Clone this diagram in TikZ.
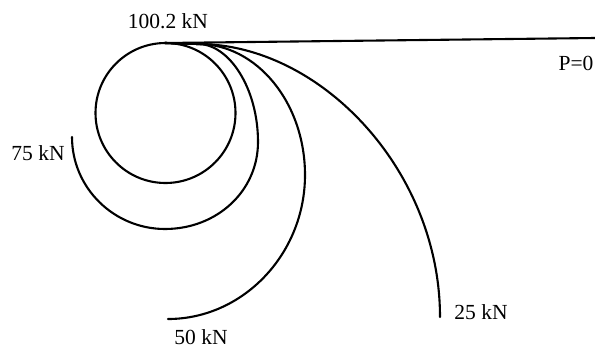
\documentclass[tikz,border=0pt]{standalone}
\usepackage{fontspec}
\setmainfont{Liberation Serif}
\begin{document}
\begin{tikzpicture}[x=1pt,y=-1pt,
  curve/.style={line width=2.1pt,line cap=round},
  lbl/.style={font=\fontsize{21.5}{24}\selectfont,inner sep=0pt}]
\useasboundingbox (0,0) rectangle (595,349);
% horizontal line (P=0)
\coordinate (start) at (165,43);
\coordinate (fork) at (198,44);
\coordinate (lineend) at (595,38);
\draw[curve] (start) -- (lineend);
% 100.2 kN loop
\draw[curve] (165.5,113) circle (70);
% 75 kN
\draw[curve] (start) -- (fork) .. controls (229,44) and (258,88) .. (258,142)
  .. controls (258,191) and (217,229) .. (165,229)
  .. controls (114,229) and (72,188) .. (72,137);
% 50 kN
\draw[curve] (start) -- (fork) .. controls (257,44) and (305,103) .. (305,175)
  .. controls (305,254) and (243,319) .. (168,319);
% 25 kN
\draw[curve] (start) -- (fork) .. controls (320,44) and (440,170) .. (440,317);
% labels
\node[lbl] (l100) at (168,21) {100.2 kN};
\node[lbl] (l75) at (38,153) {75 kN};
\node[lbl] (l50) at (201,337) {50 kN};
\node[lbl] (l25) at (481,312) {25 kN};
\node[lbl] (lp) at (576,63) {P=0};
\end{tikzpicture}
\end{document}
